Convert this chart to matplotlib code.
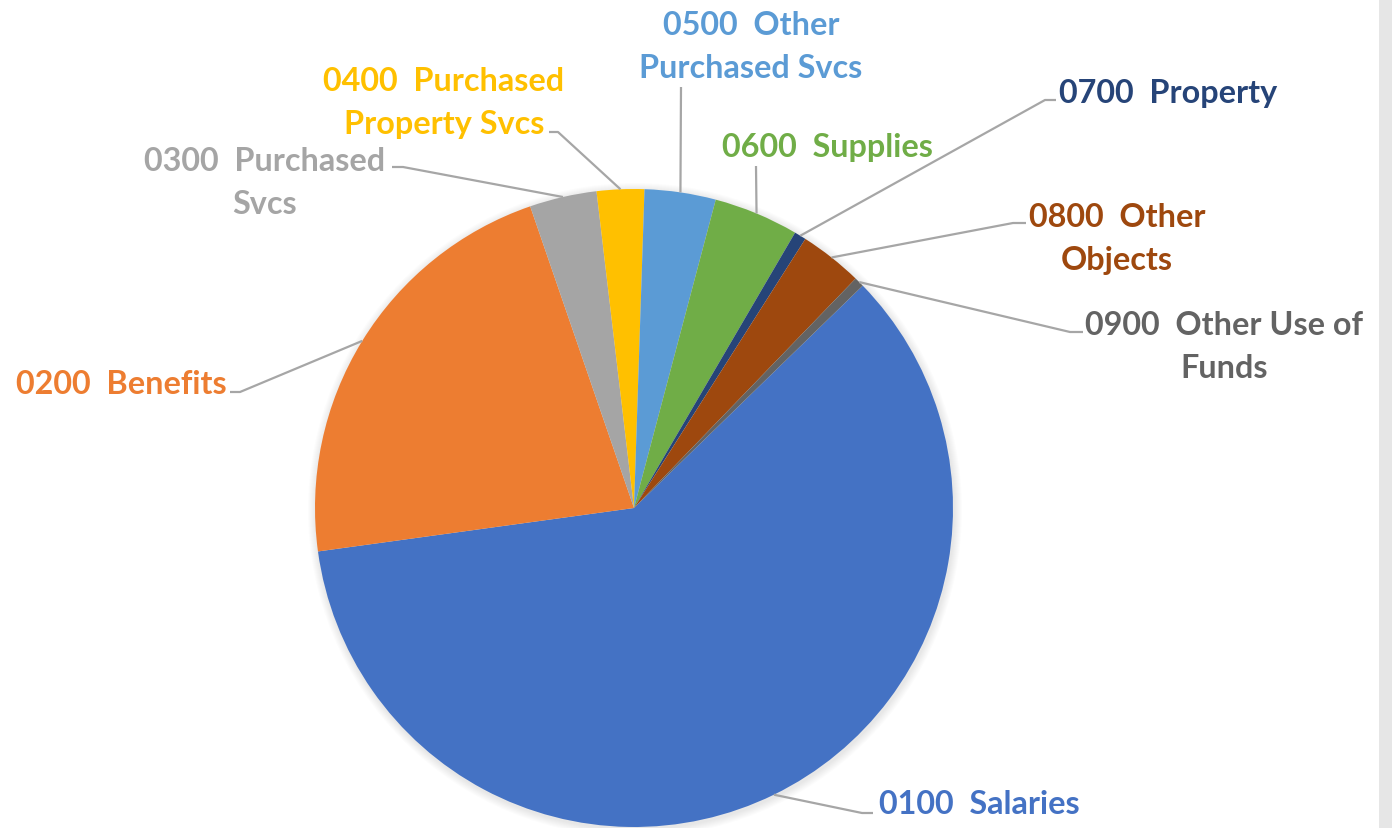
import numpy as np
import matplotlib.pyplot as plt
from matplotlib.patches import Circle, Rectangle

# budget share by object code (percent)
codes = ['0100', '0200', '0300', '0400', '0500', '0600', '0700', '0800', '0900']
names = ['Salaries', 'Benefits', 'Purchased\nSvcs', 'Purchased\nProperty Svcs',
         'Other\nPurchased Svcs', 'Supplies', 'Property', 'Other\nObjects',
         'Other Use of\nFunds']
shares = [60.1, 21.9, 3.4, 2.4, 3.6, 4.3, 0.6, 3.2, 0.5]
colors = ['#4472C4', '#ED7D31', '#A5A5A5', '#FFC000', '#5B9BD5',
          '#70AD47', '#264478', '#9E480E', '#636363']

W, H = 1392, 829
cx, cy, r = 634, H - 509, 319

fig = plt.figure(figsize=(W / 100, H / 100), dpi=100)
ax = fig.add_axes([0, 0, 1, 1])

# soft shadow behind the pie
for k in range(8):
    ax.add_patch(Circle((cx + 1, cy - 2), r + 8 - k, color='black',
                        alpha=0.012, lw=0, zorder=0))

wedges, _ = ax.pie(shares, colors=colors, startangle=44.19, counterclock=False,
                   center=(cx, cy), radius=r,
                   wedgeprops=dict(linewidth=0))

# label layout: centre of text block, elbow of leader, end of leader (pixels)
label_xy = [(979, 805), (121, 385), (265, 183), (444, 103), (751, 47),
            (827, 148), (1168, 93), (1117, 239), (1224, 347)]
elbows = [(862, 814), (240, 393), (403, 168), (558, 133), (681, 88),
          (756, 167), (1045, 101), (1013, 224), (1070, 333)]
ends = [(873, 814), (230, 393), (392, 168), (549, 133), (681, 88),
        (756, 167), (1056, 101), (1026, 224), (1083, 333)]

for w, code, name, col, (tx, ty), (ex, ey), (fx, fy) in zip(
        wedges, codes, names, colors, label_xy, elbows, ends):
    mid = np.deg2rad((w.theta1 + w.theta2) / 2)
    sx, sy = cx + r * np.cos(mid), cy + r * np.sin(mid)
    ax.plot([sx, ex, fx], [sy, H - ey, H - fy], color='#A6A6A6', lw=1.6,
            solid_capstyle='butt', zorder=1)
    ax.text(tx, H - ty, code + '  ' + name, color=col,
            fontsize=23.3, fontweight='bold', family='Lato', ha='center',
            va='center', multialignment='center', linespacing=1.6)

# screenshot edge strip
ax.add_patch(Rectangle((1379, 0), 13, H, color='#E6E6E6', lw=0))

ax.set_xlim(0, W)
ax.set_ylim(0, H)
ax.set_aspect('equal')
ax.axis('off')
fig.savefig('out.png', dpi=100)
